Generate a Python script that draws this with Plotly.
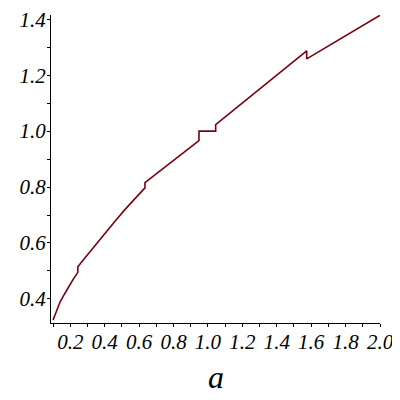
import plotly.graph_objects as go

# values, piece by piece (jumps kept as repeated a)
a_seg1 = [0.100, 0.120, 0.140, 0.165, 0.190, 0.215, 0.244]
y_seg1 = [0.325, 0.357, 0.388, 0.416, 0.443, 0.468, 0.495]

a_seg2 = [0.244, 0.280, 0.310, 0.350, 0.390, 0.430, 0.460, 0.520, 0.580, 0.634]
y_seg2 = [0.515, 0.543, 0.566, 0.597, 0.626, 0.655, 0.678, 0.721, 0.762, 0.797]

a_seg3 = [0.634, 0.700, 0.800, 0.900, 0.948]
y_seg3 = [0.816, 0.848, 0.896, 0.943, 0.966]

a_flat = [0.948, 1.045]
y_flat = [1.000, 1.000]

a_seg4 = [1.045, 1.150, 1.300, 1.450, 1.574]
y_seg4 = [1.023, 1.076, 1.151, 1.225, 1.287]

a_seg5 = [1.574, 1.700, 1.800, 1.900, 2.000]
y_seg5 = [1.258, 1.304, 1.342, 1.378, 1.414]

x_ticks = [0.2, 0.4, 0.6, 0.8, 1.0, 1.2, 1.4, 1.6, 1.8, 2.0]
y_ticks = [0.4, 0.6, 0.8, 1.0, 1.2, 1.4]

a_vals = a_seg1 + a_seg2 + a_seg3 + a_flat + a_seg4 + a_seg5
y_vals = y_seg1 + y_seg2 + y_seg3 + y_flat + y_seg4 + y_seg5

tick_font = dict(family="Liberation Serif", size=21, color="black")

fig = go.Figure()
fig.add_trace(go.Scatter(x=a_vals, y=y_vals, mode="lines",
                         line=dict(color="#7a0010", width=1.6),
                         cliponaxis=False, hoverinfo="skip"))

# page body has an 8px margin, so the figure is a bit smaller and shifted
fig.update_layout(
    width=392, height=392,
    margin=dict(l=43, r=20, t=7, b=77),
    paper_bgcolor="white", plot_bgcolor="white",
    showlegend=False,
)
fig.update_xaxes(
    range=[0.088, 2.0], tickmode="array", tickvals=x_ticks,
    ticktext=["<i>%.1f</i>" % v for v in x_ticks],
    showgrid=False, zeroline=False, automargin=False,
    showline=True, linecolor="black", linewidth=1,
    ticks="outside", ticklen=3, tickcolor="black", tickwidth=1,
    minor=dict(dtick=0.1, tick0=0, ticks="outside", ticklen=3, tickcolor="black", showgrid=False),
    tickfont=tick_font, ticklabelstandoff=-3, ticklabeloverflow="allow",
)
fig.update_yaxes(
    range=[0.314, 1.415], tickmode="array", tickvals=y_ticks,
    ticktext=["<i>%.1f</i>" % v for v in y_ticks],
    showgrid=False, zeroline=False, automargin=False,
    showline=True, linecolor="black", linewidth=1,
    ticks="outside", ticklen=3, tickcolor="black", tickwidth=1,
    minor=dict(dtick=0.1, tick0=0, ticks="outside", ticklen=3, tickcolor="black", showgrid=False),
    tickfont=tick_font, ticklabelstandoff=-3, ticklabeloverflow="allow",
)
fig.add_annotation(text="<i>a</i>", xref="paper", yref="paper", x=0.5, y=-0.176,
                   xanchor="center", yanchor="middle", showarrow=False,
                   font=dict(family="Liberation Serif", size=32, color="black"))

fig.write_html("out.html", config={"displayModeBar": False})
